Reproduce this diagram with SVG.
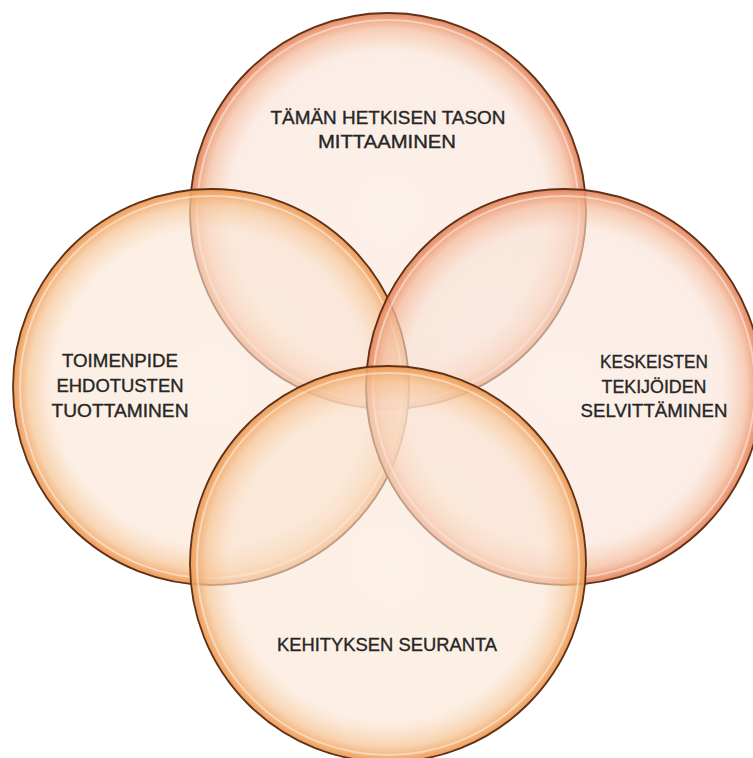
<svg xmlns="http://www.w3.org/2000/svg" width="753" height="758" viewBox="0 0 753 758">
  <defs>
    <radialGradient id="gSalmon" cx="50%" cy="50%" r="50%">
      <stop offset="0" stop-color="#fae6dc" stop-opacity="0.6"/>
      <stop offset="0.8" stop-color="#f9e2d5" stop-opacity="0.6"/>
      <stop offset="0.92" stop-color="#f4bd9f" stop-opacity="0.75"/>
      <stop offset="1" stop-color="#e6845a" stop-opacity="0.95"/>
    </radialGradient>
    <radialGradient id="gOrange" cx="50%" cy="50%" r="50%">
      <stop offset="0" stop-color="#fbe8d8" stop-opacity="0.6"/>
      <stop offset="0.8" stop-color="#fae3d0" stop-opacity="0.6"/>
      <stop offset="0.92" stop-color="#f6c698" stop-opacity="0.75"/>
      <stop offset="1" stop-color="#ee9850" stop-opacity="0.95"/>
    </radialGradient>
  </defs>
  <style>
    .ring { stroke: #5e3118; stroke-width: 1.8; }
    .shine { fill: none; stroke: #ffffff; stroke-opacity: 0.45; stroke-width: 2; }
    .lbl { font-family: "Liberation Sans", Arial, sans-serif; font-size: 18px; fill: #262626; stroke: #262626; stroke-width: 0.35; text-anchor: middle; }
  </style>
  <rect width="753" height="758" fill="#ffffff"/>
  <g id="node-top">
    <circle class="ring" cx="388" cy="211" r="198" fill="url(#gSalmon)"/>
    <circle class="shine" cx="388" cy="211" r="191"/>
  </g>
  <g id="node-left">
    <circle class="ring" cx="211" cy="387" r="198" fill="url(#gOrange)"/>
    <circle class="shine" cx="211" cy="387" r="191"/>
  </g>
  <g id="node-right">
    <circle class="ring" cx="564" cy="387" r="198" fill="url(#gSalmon)"/>
    <circle class="shine" cx="564" cy="387" r="191"/>
  </g>
  <g id="node-bottom">
    <circle class="ring" cx="388" cy="564" r="198" fill="url(#gOrange)"/>
    <circle class="shine" cx="388" cy="564" r="191"/>
  </g>
  <g id="labels">
    <text class="lbl" x="388" y="124" textLength="235" lengthAdjust="spacingAndGlyphs">TÄMÄN HETKISEN TASON</text>
    <text class="lbl" x="387" y="148" textLength="138" lengthAdjust="spacingAndGlyphs">MITTAAMINEN</text>
    <text class="lbl" x="120" y="367" textLength="116" lengthAdjust="spacingAndGlyphs">TOIMENPIDE</text>
    <text class="lbl" x="120" y="392" textLength="127" lengthAdjust="spacingAndGlyphs">EHDOTUSTEN</text>
    <text class="lbl" x="120" y="417" textLength="137" lengthAdjust="spacingAndGlyphs">TUOTTAMINEN</text>
    <text class="lbl" x="654" y="368" textLength="108" lengthAdjust="spacingAndGlyphs">KESKEISTEN</text>
    <text class="lbl" x="654" y="393" textLength="105" lengthAdjust="spacingAndGlyphs">TEKIJÖIDEN</text>
    <text class="lbl" x="654" y="417" textLength="147" lengthAdjust="spacingAndGlyphs">SELVITTÄMINEN</text>
    <text class="lbl" x="387" y="651" textLength="220" lengthAdjust="spacingAndGlyphs">KEHITYKSEN SEURANTA</text>
  </g>
  <g id="connectors"/>
</svg>
